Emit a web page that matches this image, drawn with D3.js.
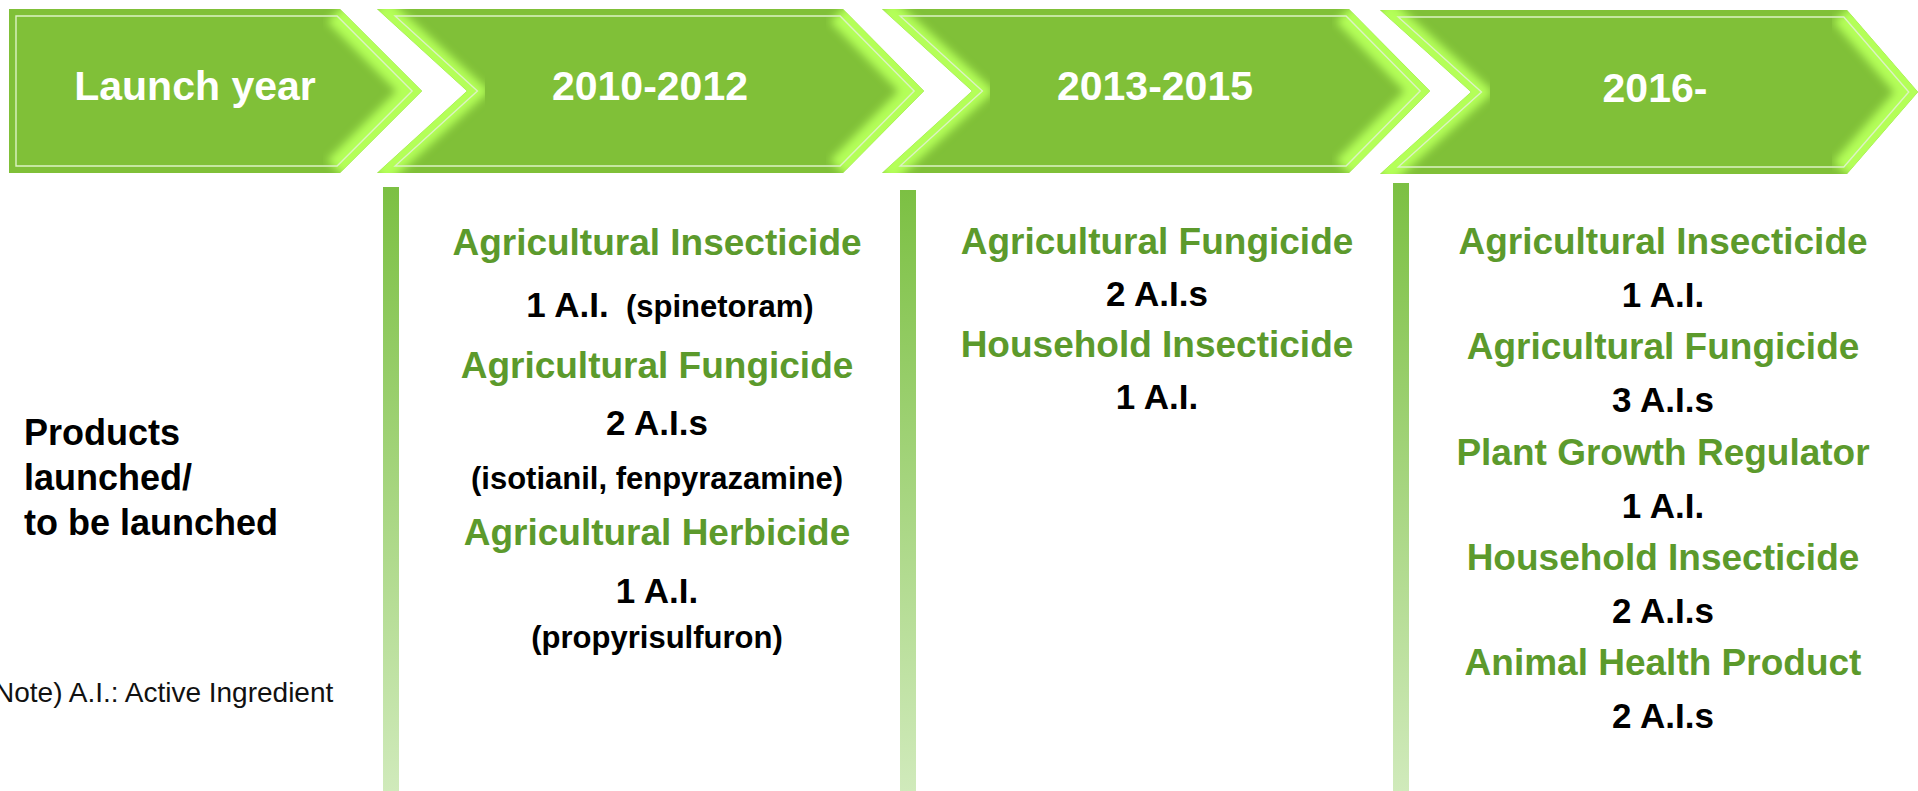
<!DOCTYPE html>
<html>
<head>
<meta charset="utf-8">
<script src="https://cdn.jsdelivr.net/npm/d3@7"></script>
<style>
  body { margin: 0; background: #fff; overflow: hidden; }
  svg { display: block; font-family: "Liberation Sans", Arial, sans-serif; }
</style>
</head>
<body>
<svg id="chart"></svg>
<script>
// ---- data ----
const phases = ["Launch year", "2010-2012", "2013-2015", "2016-"];
const rowLabel = ["Products", "launched/", "to be launched"];
const noteText = "Note) A.I.: Active Ingredient";

const cats_2010 = ["Agricultural Insecticide", "Agricultural Fungicide", "Agricultural Herbicide"];
const ais_2010 = [1, 2, 1];
const names_2010 = [["spinetoram"], ["isotianil", "fenpyrazamine"], ["propyrisulfuron"]];

const cats_2013 = ["Agricultural Fungicide", "Household Insecticide"];
const ais_2013 = [2, 1];

const cats_2016 = ["Agricultural Insecticide", "Agricultural Fungicide", "Plant Growth Regulator",
                   "Household Insecticide", "Animal Health Product"];
const ais_2016 = [1, 3, 1, 2, 2];

// ---- layout ----
const W = 1918, H = 791;
const green = "#80c038", textGreen = "#5c9a2c";

const chevLeft  = d3.scaleOrdinal().domain(phases).range([9, 377, 882, 1380]);
const chevRight = d3.scaleOrdinal().domain(phases).range([340, 843, 1349, 1847]);
const chevTip   = d3.scaleOrdinal().domain(phases).range([82, 81, 81, 71]);
const chevNotch = d3.scaleOrdinal().domain(phases).range([0, 90, 90, 91]);
const chevTop   = d3.scaleOrdinal().domain(phases).range([9, 9, 9, 10]);
const chevH = 164;
const headX = d3.scaleOrdinal().domain(phases).range([195, 650, 1155, 1655]);
const headY = d3.scaleOrdinal().domain(phases).range([100, 100, 100, 102]);

const colX   = d3.scaleOrdinal().domain(phases.slice(1)).range([657, 1157, 1663]);
const barX   = d3.scaleOrdinal().domain(phases.slice(1)).range([383, 900, 1393]);
const barTop = d3.scaleOrdinal().domain(phases.slice(1)).range([187, 190, 183]);

const svg = d3.select("#chart").attr("width", W).attr("height", H);
const defs = svg.append("defs");

defs.append("filter").attr("id", "glow")
    .attr("x", "-20%").attr("y", "-20%").attr("width", "140%").attr("height", "140%")
  .append("feGaussianBlur").attr("stdDeviation", 4);

const barGrad = defs.append("linearGradient").attr("id", "barGrad")
    .attr("x1", 0).attr("y1", 0).attr("x2", 0).attr("y2", 1);
barGrad.append("stop").attr("offset", "0%").attr("stop-color", "#7cc043");
barGrad.append("stop").attr("offset", "100%").attr("stop-color", "#d0eabb");

function chevronPoints(p) {
  const x0 = chevLeft(p), x1 = chevRight(p), y0 = chevTop(p), y1 = y0 + chevH, ym = (y0 + y1) / 2;
  const pts = [[x0, y0], [x1, y0], [x1 + chevTip(p), ym], [x1, y1], [x0, y1]];
  if (chevNotch(p) > 0) pts.push([x0 + chevNotch(p), ym]);
  return pts;
}

function intersect(a, b) {
  const [[x1, y1], [x2, y2]] = a, [[x3, y3], [x4, y4]] = b;
  const den = (x1 - x2) * (y3 - y4) - (y1 - y2) * (x3 - x4);
  const t = ((x1 - x3) * (y3 - y4) - (y1 - y3) * (x3 - x4)) / den;
  return [x1 + t * (x2 - x1), y1 + t * (y2 - y1)];
}

// shrink a polygon by d px
function inset(pts, d) {
  const n = pts.length;
  const lines = pts.map((p, i) => {
    const q = pts[(i + 1) % n];
    const dx = q[0] - p[0], dy = q[1] - p[1], len = Math.hypot(dx, dy);
    const nx = -dy / len * d, ny = dx / len * d;
    return [[p[0] + nx, p[1] + ny], [q[0] + nx, q[1] + ny]];
  });
  return lines.map((l, i) => intersect(lines[(i - 1 + n) % n], l));
}

const line = d3.line();

// ---- chevrons ----
const cg = svg.append("g").selectAll("g").data(phases).join("g");

cg.each(function (p, i) {
  const g = d3.select(this);
  const pts = chevronPoints(p);
  defs.append("clipPath").attr("id", "clip" + i)
    .append("path").attr("d", line(pts) + "Z");

  g.append("path").attr("d", line(pts) + "Z").attr("fill", green);

  const inner = g.append("g").attr("clip-path", `url(#clip${i})`);
  // bright bevel along the pointed side
  inner.append("path")
      .attr("d", line([pts[1], pts[2], pts[3]]))
      .attr("fill", "none").attr("stroke", "#b4ff58")
      .attr("stroke-width", 36).attr("filter", "url(#glow)");
  if (pts.length === 6) {
    inner.append("path")
        .attr("d", line([pts[4], pts[5], pts[0]]))
        .attr("fill", "none").attr("stroke", "#b4ff58")
        .attr("stroke-width", 30).attr("filter", "url(#glow)");
  } else {
    inner.append("path")
        .attr("d", line([pts[4], pts[0]]))
        .attr("fill", "none").attr("stroke", "#b4ff58").attr("stroke-opacity", 0.6)
        .attr("stroke-width", 14).attr("filter", "url(#glow)");
  }
  g.append("path").attr("d", line(inset(pts, 7)) + "Z")
      .attr("fill", "none").attr("stroke", "#dcf2c4").attr("stroke-width", 1.4);
});

cg.append("text")
    .attr("x", d => headX(d)).attr("y", d => headY(d))
    .attr("text-anchor", "middle")
    .attr("font-size", 41).attr("font-weight", "bold").attr("fill", "#fff")
    .text(d => d);

// ---- vertical dividers ----
svg.append("g").selectAll("rect").data(phases.slice(1)).join("rect")
    .attr("x", d => barX(d)).attr("y", d => barTop(d))
    .attr("width", 16).attr("height", d => H - barTop(d))
    .attr("fill", "url(#barGrad)");

// ---- left labels ----
svg.append("g").selectAll("text").data(rowLabel).join("text")
    .attr("x", 24).attr("y", (d, i) => 445 + i * 45)
    .attr("font-size", 36).attr("font-weight", "bold").attr("fill", "#000")
    .text(d => d);

svg.append("text")
    .attr("x", -6).attr("y", 702)
    .attr("font-size", 28).attr("fill", "#111")
    .text(noteText);

// ---- column contents ----
const aiLabel = n => n === 1 ? "1 A.I." : n + " A.I.s";
const pick = (v, i) => Array.isArray(v) ? v[i] : v;

function buildLines(cats, ais, names, opt) {
  const rows = [];
  let y = opt.y0;
  cats.forEach((c, i) => {
    if (i > 0) y += pick(opt.gapToHead, i);
    rows.push({ parts: [{ t: c, size: 37, fill: textGreen }], y });
    y += pick(opt.gapHeadCount, i);
    const count = { t: aiLabel(ais[i]), size: 35, fill: "#000" };
    const nm = names ? "(" + names[i].join(", ") + ")" : null;
    if (nm && opt.inline[i]) {
      rows.push({ parts: [count, { t: "\u00a0\u00a0" + nm, size: 31, fill: "#000" }], y, dx: 13 });
    } else {
      rows.push({ parts: [count], y });
      if (nm) {
        y += pick(opt.gapCountName, i);
        rows.push({ parts: [{ t: nm, size: 31, fill: "#000" }], y });
      }
    }
  });
  return rows;
}

const columns = [
  { phase: "2010-2012", rows: buildLines(cats_2010, ais_2010, names_2010,
      { y0: 255, gapHeadCount: [62, 57, 58], gapCountName: [0, 54, 45], gapToHead: [0, 61, 56],
        inline: [true, false, false] }) },
  { phase: "2013-2015", rows: buildLines(cats_2013, ais_2013, null,
      { y0: 254, gapHeadCount: 52, gapToHead: 51 }) },
  { phase: "2016-", rows: buildLines(cats_2016, ais_2016, null,
      { y0: 254, gapHeadCount: 53, gapToHead: 52.3 }) }
];

const colG = svg.append("g").selectAll("g").data(columns).join("g");
colG.each(function (col) {
  const t = d3.select(this).selectAll("text").data(col.rows).join("text")
      .attr("x", r => colX(col.phase) + (r.dx || 0))
      .attr("y", r => r.y)
      .attr("text-anchor", "middle")
      .attr("font-weight", "bold");
  t.selectAll("tspan").data(r => r.parts).join("tspan")
      .attr("font-size", d => d.size)
      .attr("fill", d => d.fill)
      .text(d => d.t);
});
</script>
</body>
</html>
